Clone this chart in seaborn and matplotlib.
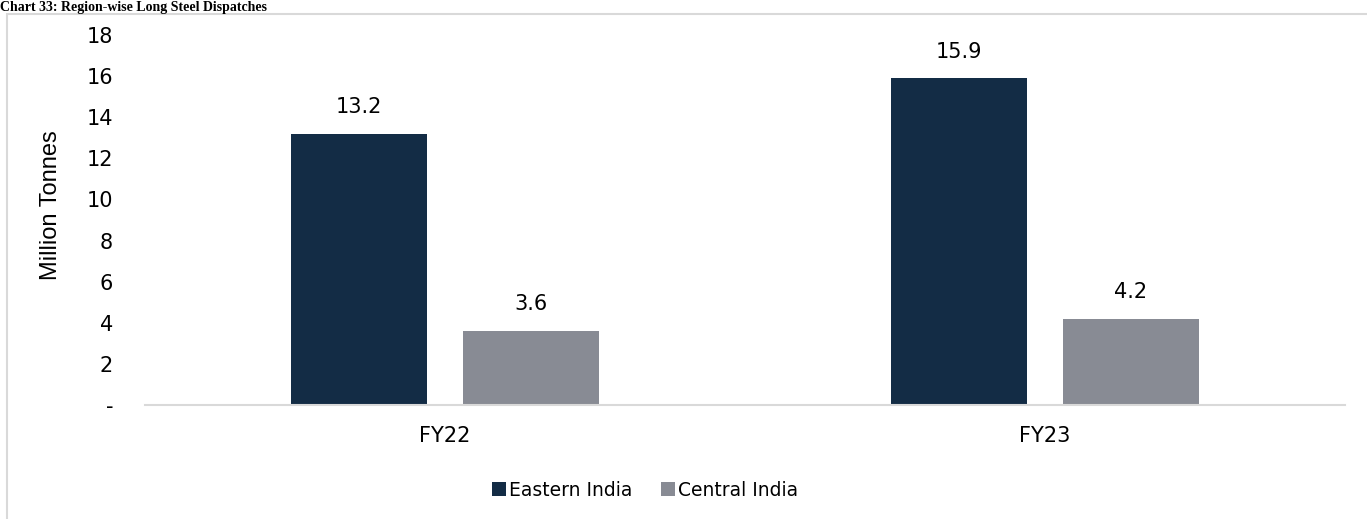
import matplotlib
matplotlib.use("Agg")
import matplotlib.pyplot as plt
import seaborn as sns
import pandas as pd
from matplotlib.patches import Rectangle

# data
years = ["FY22", "FY23"]
regions = ["Eastern India", "Central India"]
eastern = [13.2, 15.9]
central = [3.6, 4.2]
colors = ["#132c45", "#888b94"]
y_ticks = [0, 2, 4, 6, 8, 10, 12, 14, 16, 18]

df = pd.DataFrame({
    "year": years * 2,
    "region": [regions[0]] * 2 + [regions[1]] * 2,
    "value": eastern + central,
})

sns.set_style("white")
plt.rcParams["font.family"] = ["DejaVu Sans"]
plt.rcParams["text.color"] = "black"
plt.rcParams["xtick.color"] = "black"
plt.rcParams["ytick.color"] = "black"

fig = plt.figure(figsize=(13.67, 5.19), dpi=100)
ax = fig.add_axes([145 / 1367, 1 - 405 / 519, 1200 / 1367, 370 / 519])

sns.barplot(data=df, x="year", y="value", hue="region", palette=colors,
            width=0.573, gap=0.21, ax=ax, saturation=1, legend=True,
            edgecolor="none", linewidth=0)

# value labels
for cont in ax.containers:
    ax.bar_label(cont, fmt="%.1f", padding=12, fontsize=15, color="black")

ax.set_ylim(0, 18)
ax.set_xlim(-0.5, 1.5)
ax.set_yticks(y_ticks)
ax.set_yticklabels(["-"] + [str(t) for t in y_ticks[1:]], fontsize=15)
ax.tick_params(axis="x", labelsize=15, length=0, pad=15)
ax.tick_params(axis="y", length=0, pad=23)
ax.set_xlabel("")
ax.set_ylabel("Million Tonnes", fontsize=17, family="Liberation Sans", color="black")
ax.yaxis.set_label_coords((62 - 145) / 1200, 0.54)

for s in ["top", "right", "left"]:
    ax.spines[s].set_visible(False)
ax.spines["bottom"].set_color("#d9d9d9")
ax.spines["bottom"].set_linewidth(1.5)

handles, labels = ax.get_legend_handles_labels()
ax.legend(handles, labels, loc="center", bbox_to_anchor=(645 / 1367, 1 - 490 / 519),
          bbox_transform=fig.transFigure, ncol=2, frameon=False, fontsize=13.5,
          handlelength=0.75, handleheight=0.75, handletextpad=0.15, columnspacing=1.5)

# outer frame and title of the source document
fig.patches.append(Rectangle((7 / 1367, -0.1), 1.2, 1 - 14 / 519 + 0.1, transform=fig.transFigure,
                             fill=False, edgecolor="#d9d9d9", linewidth=1.5))
fig.text(0.0, 1 - 1 / 519, "Chart 33: Region-wise Long Steel Dispatches", fontsize=10,
         fontweight="bold", family="Liberation Serif", va="top", ha="left")

fig.savefig("out.png", dpi=100)
